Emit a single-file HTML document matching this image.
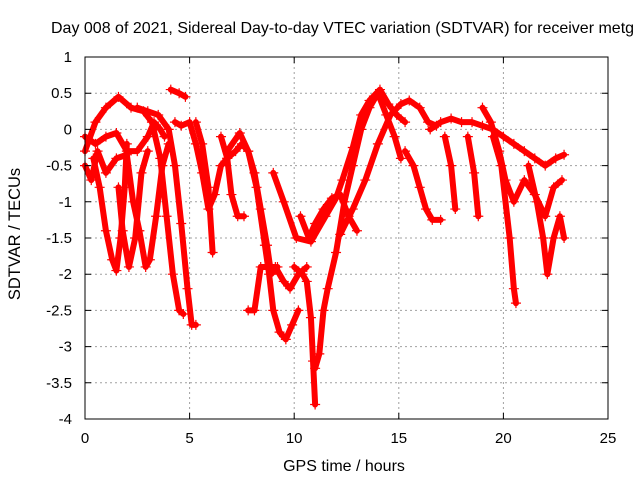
<!DOCTYPE html>
<html><head><meta charset="utf-8"><style>
body{margin:0;background:#fff;width:640px;height:480px;overflow:hidden}
svg text{font-family:"Liberation Sans",sans-serif;fill:#000}
</style></head><body>
<svg id="chart" width="640" height="480" viewBox="0 0 640 480" xmlns="http://www.w3.org/2000/svg">
<text x="51" y="33" font-size="16">Day 008 of 2021, Sidereal Day-to-day VTEC variation (SDTVAR) for receiver metg</text>
<g id="grid"></g>
<g id="series"></g>
<rect x="85" y="57" width="523" height="362" fill="none" stroke="#000" stroke-width="1"/>
<g id="axes"></g>
<text x="344" y="471" font-size="16" text-anchor="middle">GPS time / hours</text>
<text transform="translate(20,234) rotate(-90)" font-size="16.5" text-anchor="middle">SDTVAR / TECUs</text>
</svg>
<script>
const xTicks=[0,5,10,15,20,25];
const yTicks=[1,0.5,0,-0.5,-1,-1.5,-2,-2.5,-3,-3.5,-4];
const track1=[[0,-0.3],[0.5,0.1],[1,0.3],[1.6,0.45],[2.2,0.3],[2.8,0.25],[3.2,0.1],[3.6,-0.4],[3.9,-1.2],[4.2,-2],[4.5,-2.5],[4.7,-2.55]];
const track2=[[2.5,0.3],[3,0.25],[3.5,0.2],[4,0],[4.3,-0.5],[4.6,-1.3],[4.9,-2.2],[5.1,-2.7],[5.3,-2.7]];
const track3=[[0,-0.1],[0.5,-0.2],[1,-0.1],[1.5,-0.05],[2,-0.3],[2.5,-0.3],[3,-0.1],[3.3,0.1],[3.6,0.0],[3.8,-0.1]];
const track4=[[0.4,-0.4],[0.7,-0.8],[1,-1.4],[1.3,-1.8],[1.5,-1.95],[1.7,-1.5],[1.9,-0.8],[2.0,-0.2]];
const track5=[[1.6,-0.8],[1.8,-1.4],[2.1,-1.9],[2.4,-1.5],[2.7,-0.6],[3,-0.3]];
const track6=[[0,-0.5],[0.3,-0.7],[0.6,-0.3],[1,-0.6],[1.5,-0.4],[2,-0.35],[2.3,-1.0],[2.6,-1.4],[2.9,-1.9],[3.1,-1.8],[3.4,-1.2],[3.7,-0.5],[4,-0.2]];
const track7=[[4.3,0.1],[4.6,0.05],[5,0.1],[5.3,-0.2],[5.6,-0.6],[5.9,-1.1],[6.2,-0.9],[6.5,-0.5],[6.8,-0.4],[7.2,-0.3],[7.5,-0.2],[7.8,-0.3],[8.1,-0.6],[8.4,-1.1],[8.7,-1.6],[8.9,-2.0],[9.2,-1.9]];
const track8=[[5.3,0.1],[5.6,-0.2],[5.9,-0.8],[6.1,-1.7]];
const track9=[[6.5,-0.1],[6.8,-0.4],[7.0,-0.9],[7.3,-1.2],[7.6,-1.2]];
const track10=[[4.1,0.55],[4.5,0.5],[4.8,0.45]];
const track11=[[6.8,-0.3],[7.4,-0.05],[7.8,-0.3],[8.2,-0.8],[8.6,-1.6],[8.8,-2.0],[9.0,-2.5],[9.3,-2.8],[9.6,-2.9],[9.9,-2.7],[10.2,-2.5]];
const track12=[[7.8,-2.5],[8.1,-2.5],[8.4,-1.9],[8.7,-1.9],[9.1,-1.9],[9.5,-2.1],[9.8,-2.2],[10.2,-2.0],[10.6,-1.9]];
const track13=[[9.0,-0.6],[9.5,-1.0],[10.1,-1.5],[10.8,-1.55],[11.5,-1.2],[12,-0.95],[12.3,-0.7],[12.8,-0.25],[13.2,0.2],[13.6,0.4],[14.1,0.55],[14.5,0.35],[14.9,0.2],[15.3,0.1]];
const track14=[[10.0,-1.9],[10.4,-2.0],[10.6,-2.1],[10.8,-2.6],[10.9,-3.2],[11.0,-3.8]];
const track15=[[11.0,-3.3],[11.2,-3.1],[11.4,-2.5],[11.6,-2.2],[12,-1.7],[12.4,-1.0],[12.8,-0.5],[13.2,0],[13.6,0.3],[14,0.5],[14.4,0.2],[14.8,-0.1],[15.1,-0.4]];
const track16=[[10.3,-1.2],[10.7,-1.5],[11.0,-1.3],[11.4,-1.1],[11.8,-0.95],[12.2,-0.9],[12.6,-1.2],[13.0,-1.4]];
const track17=[[12.2,-1.45],[12.8,-1.1],[13.4,-0.7],[14.0,-0.2],[14.6,0.2],[15.1,0.35],[15.5,0.4],[16,0.3],[16.4,0.1],[16.8,0.05]];
const track18=[[15.3,-0.3],[15.7,-0.5],[16.0,-0.8],[16.3,-1.1],[16.6,-1.25],[17.0,-1.25]];
const track19=[[16.5,0.0],[17,0.1],[17.5,0.15],[18,0.1],[18.5,0.1],[19,0.05],[19.5,0.0],[20,-0.1],[20.5,-0.2],[21,-0.3],[21.5,-0.4],[22,-0.5],[22.5,-0.4],[22.9,-0.35]];
const track20=[[17.2,-0.1],[17.5,-0.5],[17.7,-1.1]];
const track21=[[18.3,-0.1],[18.6,-0.6],[18.8,-1.2]];
const track22=[[19,0.3],[19.4,0.1],[19.8,-0.3],[20.1,-0.7],[20.5,-1.0],[21,-0.7],[21.5,-0.9],[22,-1.2],[22.4,-0.8],[22.8,-0.7]];
const track23=[[19.5,-0.1],[19.9,-0.5],[20.3,-1.5],[20.5,-2.2],[20.6,-2.4]];
const track24=[[21.2,-0.5],[21.6,-1.0],[21.9,-1.5],[22.1,-2.0],[22.4,-1.5],[22.7,-1.2],[22.9,-1.5]];
const tracks=[track1,track2,track3,track4,track5,track6,track7,track8,track9,track10,track11,track12,track13,track14,track15,track16,track17,track18,track19,track20,track21,track22,track23,track24];

const X0=85,X1=608,Y0=419,Y1=57;
const xScale=t=>X0+(t-0)/(25-0)*(X1-X0);
const yScale=v=>Y0-(v-(-4))/(1-(-4))*(Y0-Y1);
const NS="http://www.w3.org/2000/svg";
const grid=document.getElementById('grid'),axes=document.getElementById('axes'),series=document.getElementById('series');
function mk(tag,attrs,parent){const e=document.createElementNS(NS,tag);for(const k in attrs)e.setAttribute(k,attrs[k]);parent.appendChild(e);return e;}
xTicks.forEach(t=>{const x=xScale(t);
 if(t>0&&t<25){const g=mk('line',{x1:x,x2:x,y1:Y0,y2:Y1,stroke:'#a0a0a0','stroke-dasharray':'2,3'},grid);
 
 }
 const tk=mk('path',{d:`M${x},${Y0}v-6M${x},${Y1}v6`,stroke:'#000'},axes);
 
 
 const l=mk('text',{x:x,y:Y0+24,'font-size':'15','text-anchor':'middle'},axes);l.textContent=t;
 
 
});
yTicks.forEach(v=>{const y=yScale(v);
 if(v<1&&v>-4){const g=mk('line',{x1:X0,x2:X1,y1:y,y2:y,stroke:'#a0a0a0','stroke-dasharray':'2,3'},grid);
 
 }
 const tk=mk('path',{d:`M${X0},${y}h6M${X1},${y}h-6`,stroke:'#000'},axes);
 
 
 const l=mk('text',{x:X0-13,y:y+5,'font-size':'15','text-anchor':'end'},axes);l.textContent=v;
 
 
});
tracks.forEach((tr,i)=>{
 const pts=tr.map(p=>xScale(p[0])+','+yScale(p[1])).join(' ');
 const pl=mk('polyline',{points:pts,fill:'none',stroke:'#f00','stroke-width':'6','stroke-linejoin':'round','stroke-linecap':'round'},series);
 
 
 let d='';tr.forEach(p=>{const x=xScale(p[0]),y=yScale(p[1]);d+=`M${x-5},${y}h10M${x},${y-5}v10`;});
 const m=mk('path',{d:d,stroke:'#f00','stroke-width':'1.2'},series);
 
 
});
</script>
</body></html>
